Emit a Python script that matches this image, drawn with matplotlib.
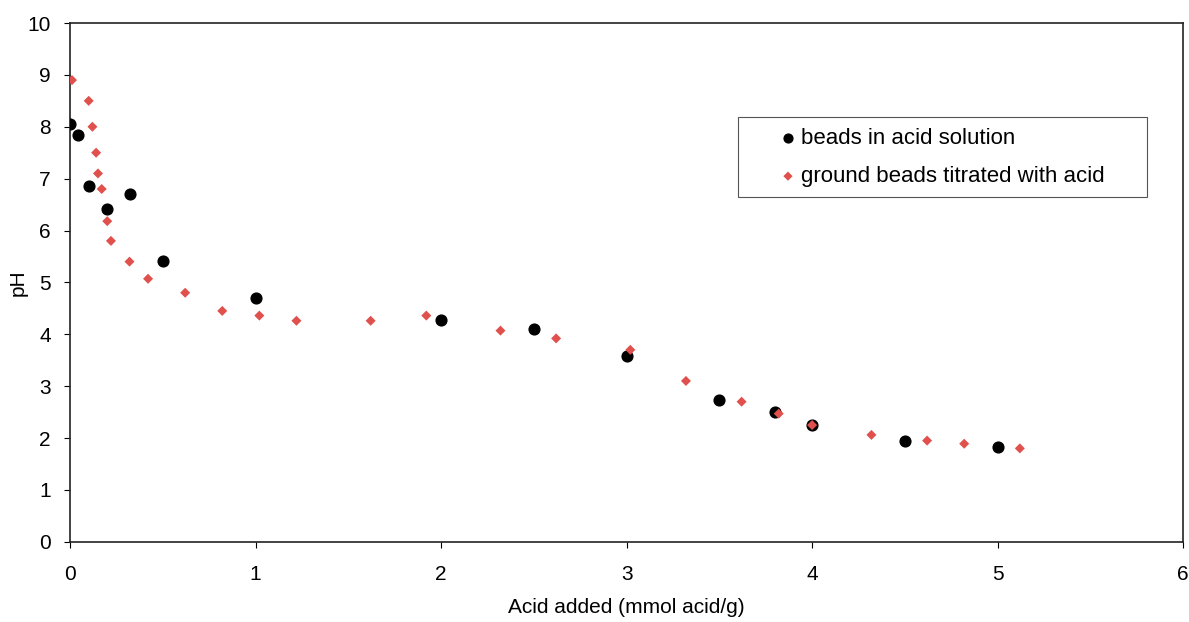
import matplotlib
matplotlib.use("Agg")
import matplotlib.pyplot as plt
from matplotlib.patches import Rectangle

bead_x = [0.0, 0.04, 0.1, 0.2, 0.32, 0.5, 1.0, 2.0, 2.5, 3.0, 3.5, 3.8, 4.0, 4.5, 5.0]
bead_y = [8.05, 7.84, 6.86, 6.42, 6.7, 5.42, 4.7, 4.28, 4.1, 3.58, 2.74, 2.5, 2.25, 1.95, 1.83]

ground_x = [0.01, 0.1, 0.12, 0.14, 0.15, 0.17, 0.2, 0.22, 0.32, 0.42, 0.62, 0.82, 1.02,
            1.22, 1.62, 1.92, 2.32, 2.62, 3.02, 3.32, 3.62, 3.82, 4.0, 4.32, 4.62, 4.82, 5.12]
ground_y = [8.9, 8.5, 8.0, 7.5, 7.1, 6.8, 6.18, 5.8, 5.4, 5.07, 4.8, 4.45, 4.36,
            4.26, 4.26, 4.36, 4.07, 3.92, 3.7, 3.1, 2.7, 2.47, 2.25, 2.06, 1.95, 1.89, 1.8]

x_ticks = [0, 1, 2, 3, 4, 5, 6]
y_ticks = [0, 1, 2, 3, 4, 5, 6, 7, 8, 9, 10]

plt.rcParams['font.family'] = ['Liberation Sans', 'DejaVu Sans']

fig = plt.figure(figsize=(11.89, 6.22), dpi=100)
ax = fig.add_axes([0.059, 0.129, 0.936, 0.834])

ax.scatter(bead_x, bead_y, s=60, marker='o', color='black', zorder=3,
           label='beads in acid solution')
ax.scatter(ground_x, ground_y, s=26, marker='D', color='#e0504c', edgecolors='none',
           zorder=4, label='ground beads titrated with acid')

ax.set_xlim(0, 6)
ax.set_ylim(0, 10)
ax.set_xticks(x_ticks)
ax.set_yticks(y_ticks)
ax.tick_params(labelsize=15, direction='out', length=4, width=0.8)
ax.tick_params(axis='x', pad=13)
ax.tick_params(axis='y', pad=10)
ax.set_xlabel('Acid added (mmol acid/g)', fontsize=15, labelpad=10)
ax.set_ylabel('pH', fontsize=15, labelpad=0)
for s in ax.spines.values():
    s.set_linewidth(1.2)
    s.set_color('#222222')

# legend frame
ax.add_patch(Rectangle((0.600, 0.665), 0.368, 0.154, transform=ax.transAxes,
                       facecolor='white', edgecolor='#555555', linewidth=0.8, zorder=5))
leg = ax.legend(loc='upper left', bbox_to_anchor=(0.637, 0.797), fontsize=16,
                frameon=False, handletextpad=0.2, borderpad=0, labelspacing=0.75,
                borderaxespad=0, handlelength=0.8)
leg.set_zorder(6)
leg.legend_handles[0].set_sizes([40])
leg.legend_handles[1].set_sizes([22])

fig.savefig('out.png', dpi=100)
